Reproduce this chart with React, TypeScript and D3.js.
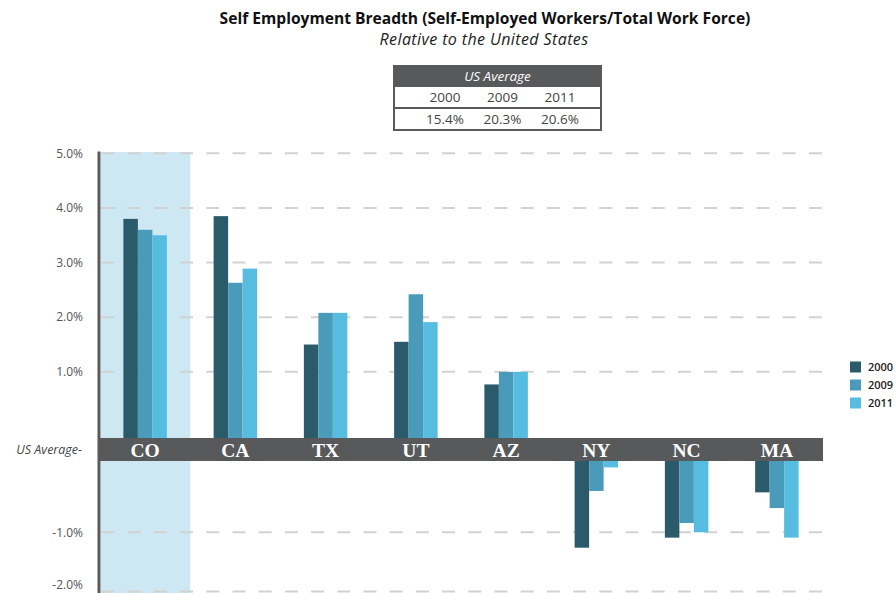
import React from "react";
import * as d3 from "d3";

const states = ["CO", "CA", "TX", "UT", "AZ", "NY", "NC", "MA"];
const years = ["2000", "2009", "2011"];
const v2000 = [3.8, 3.85, 1.5, 1.55, 0.77, -1.26, -1.09, -0.44];
const v2009 = [3.6, 2.63, 2.08, 2.42, 1.0, -0.42, -0.87, -0.66];
const v2011 = [3.5, 2.89, 2.08, 1.91, 1.0, -0.09, -1.0, -1.09];
const posTicks = [1, 2, 3, 4, 5];
const negTicks = [-1, -2];
const usAvgYears = ["2000", "2009", "2011"];
const usAvgValues = ["15.4%", "20.3%", "20.6%"];
const highlighted = "CO";

const colors = ["#2b5a6b", "#4a9bba", "#56bde0"];
const series = [v2000, v2009, v2011];

const W = 896;
const H = 593;
const bandTop = 438;
const bandBottom = 461;
const left = 100;
const right = 822;
const font = "'Open Sans', sans-serif";

export default function App() {
  const x = d3.scaleBand<string>().domain(states).range([left, right]);
  const bw = x.bandwidth();
  const groupW = 43.5;
  const xi = d3.scaleBand<string>().domain(years).range([0, groupW]);
  const yPos = d3.scaleLinear().domain([0, 5]).range([426.5, 153.3]);
  const yNeg = d3.scaleLinear().domain([0, -1, -2]).range([bandBottom, 532.3, 591.5]);
  const yOf = (t: number) => (t >= 0 ? yPos(t) : yNeg(t));
  const ticks = [...posTicks, ...negTicks];

  const tx0 = 394, tx1 = 601, ty0 = 66, ty1 = 87, ty2 = 108, ty3 = 130;
  const tcol = d3.scalePoint<string>().domain(usAvgYears).range([445, 560]);

  return (
    <svg width={W} height={H} style={{ position: "absolute", left: 0, top: 0, background: "#fff" }}>
      {/* Title */}
      <text x={485} y={24} textAnchor="middle" fontFamily={font} fontWeight={700} fontSize={15.6} fill="#111">
        Self Employment Breadth (Self-Employed Workers/Total Work Force)
      </text>
      <text x={484} y={45} textAnchor="middle" fontFamily={font} fontStyle="italic" fontSize={16} letterSpacing={0.4} fill="#222">
        Relative to the United States
      </text>

      {/* US Average table */}
      <rect x={tx0} y={ty0} width={tx1 - tx0} height={ty1 - ty0} fill="#58595b" />
      <rect x={tx0} y={ty0} width={tx1 - tx0} height={ty3 - ty0} fill="none" stroke="#58595b" strokeWidth={2} />
      <line x1={tx0} x2={tx1} y1={ty2} y2={ty2} stroke="#58595b" strokeWidth={2} />
      <text x={(tx0 + tx1) / 2} y={(ty0 + ty1) / 2} dy="0.35em" textAnchor="middle" fontFamily={font} fontStyle="italic" fontSize={13.5} fill="#fff">
        US Average
      </text>
      {usAvgYears.map((yr, i) => (
        <g key={yr}>
          <text x={tcol(yr)} y={(ty1 + ty2) / 2} dy="0.35em" textAnchor="middle" fontFamily={font} fontSize={13.5} fill="#444">
            {yr}
          </text>
          <text x={tcol(yr)} y={(ty2 + ty3) / 2} dy="0.35em" textAnchor="middle" fontFamily={font} fontSize={13.5} fill="#444">
            {usAvgValues[i]}
          </text>
        </g>
      ))}

      {/* highlight */}
      <rect x={left + 1} y={152} width={(x(highlighted) as number) + bw - left - 1} height={H - 152} fill="#cde8f3" />

      {/* gridlines */}
      {ticks.map((t) => (
        <line key={"g" + t} x1={101.5} x2={right + 1} y1={yOf(t)} y2={yOf(t)} stroke="#d2d2d2" strokeWidth={2} strokeDasharray="13 13.2" />
      ))}

      {/* tick labels */}
      {ticks.map((t) => (
        <text key={"t" + t} x={83} y={t === -2 ? 584.5 : yOf(t)} dy="0.35em" textAnchor="end" fontFamily={font} fontSize={12} fill="#555">
          {t.toFixed(1) + "%"}
        </text>
      ))}
      <text x={82} y={450} dy="0.35em" textAnchor="end" fontFamily={font} fontStyle="italic" fontSize={12.5} fill="#444">
        US Average-
      </text>

      {/* bars */}
      {states.map((s, si) => {
        const gx = (x(s) as number) + (bw - groupW) / 2;
        return (
          <g key={s}>
            {years.map((yr, k) => {
              const v = series[k][si];
              const bx = gx + (xi(yr) as number);
              const w = xi.bandwidth();
              if (v >= 0) {
                const top = yPos(v);
                return <rect key={yr} x={bx} y={top} width={w} height={bandTop - top} fill={colors[k]} />;
              }
              const bot = yNeg(v);
              return <rect key={yr} x={bx} y={bandBottom} width={w} height={bot - bandBottom} fill={colors[k]} />;
            })}
          </g>
        );
      })}

      {/* baseline band */}
      <rect x={98} y={bandTop} width={right + 1 - 98} height={bandBottom - bandTop} fill="#58595b" />
      {states.map((s) => (
        <text key={"l" + s} x={(x(s) as number) + bw / 2} y={457} textAnchor="middle" fontFamily="'Liberation Serif', 'Times New Roman', serif" fontWeight={700} fontSize={19.5} fill="#fff">
          {s}
        </text>
      ))}

      {/* axis line */}
      <rect x={97.5} y={151.5} width={3} height={H - 151.5} fill="#58595b" />

      {/* legend */}
      {years.map((yr, k) => (
        <g key={"lg" + yr} transform={`translate(850, ${361.5 + k * 18})`}>
          <rect width={11} height={11} fill={colors[k]} />
          <text x={18} y={5.5} dy="0.35em" fontFamily={font} fontWeight={600} fontSize={11} fill="#222">
            {yr}
          </text>
        </g>
      ))}
    </svg>
  );
}
